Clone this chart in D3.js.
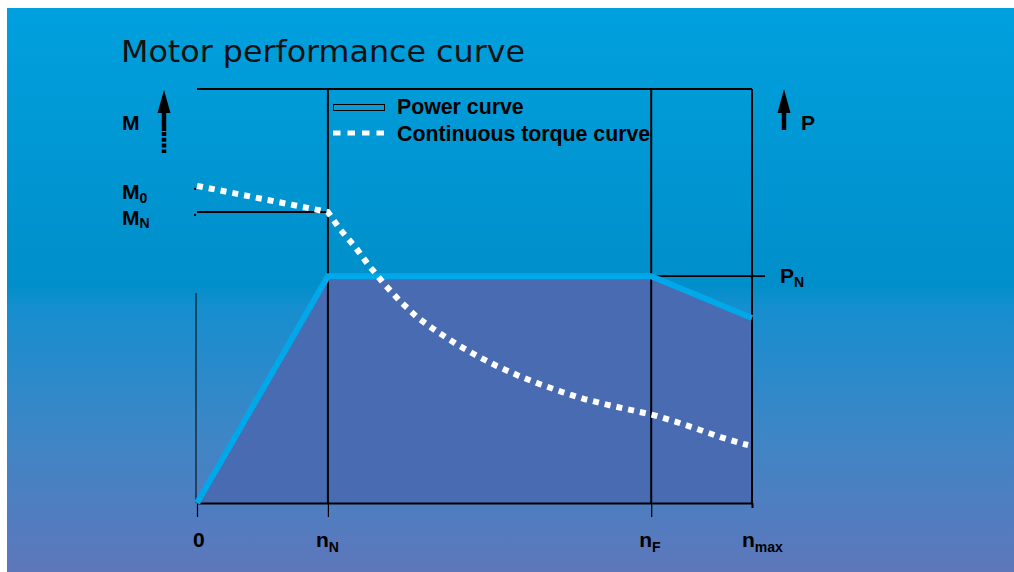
<!DOCTYPE html>
<html>
<head>
<meta charset="utf-8">
<script src="https://cdn.jsdelivr.net/npm/d3@7"></script>
<style>
  html, body { margin: 0; padding: 0; background: #ffffff; }
  svg { display: block; }
</style>
</head>
<body>
<svg id="chart" width="1014" height="572"></svg>
<script>
// ---- data ----
const speedTickValues = [0, 1, 3.47, 4.24];
const speedTickMain   = ["0", "n", "n", "n"];
const speedTickSub    = ["", "N", "F", "max"];
const nMax = 4.24;

const powerN = [0, 1, 3.47, 4.24];
const powerP = [0, 54.8, 54.8, 44.7];
const PN = 54.8;
const pnLineEnd = 4.34;

const torqueN = [0, 1, 1.09, 1.21, 1.31, 1.43, 1.55, 1.68, 1.83, 1.98, 2.13, 2.29, 2.46,
                 2.62, 2.79, 2.96, 3.14, 3.31, 3.48, 3.66, 3.82, 4.00, 4.17, 4.21];
const torqueM = [76.6, 70.3, 66.2, 61.8, 57.5, 52.9, 48.8, 44.9, 41.5, 38.4, 35.7, 33.1, 30.7,
                 28.7, 26.8, 25.1, 23.7, 22.5, 21.3, 19.6, 17.9, 15.9, 14.3, 14.0];
const M0 = 76.6;
const MN = 70.3;
const leftAxisTop = 50.7;

const titleText = "Motor performance curve";
const legendLabels = ["Power curve", "Continuous torque curve"];

// ---- drawing ----
const svg = d3.select("#chart");
const defs = svg.append("defs");
const grad = defs.append("linearGradient").attr("id", "bg")
  .attr("x1", 0).attr("y1", 0).attr("x2", 0).attr("y2", 1);
[["0%", "#00a0de"], ["49%", "#008fca"], ["53%", "#168ecf"], ["75%", "#3d86c6"], ["100%", "#5e77bb"]]
  .forEach(([o, c]) => grad.append("stop").attr("offset", o).attr("stop-color", c));

svg.append("rect").attr("x", 7).attr("y", 8).attr("width", 1007).attr("height", 564)
  .attr("fill", "url(#bg)");

const x = d3.scaleLinear().domain([0, nMax]).range([197, 752]);
const y = d3.scaleLinear().domain([0, 100]).range([503, 89]);

const powerData = powerN.map((n, i) => ({ n, v: powerP[i] }));
const torqueData = torqueN.map((n, i) => ({ n, v: torqueM[i] }));

// filled area under power curve
svg.append("path").datum(powerData)
  .attr("d", d3.area().x(d => x(d.n)).y0(y(0)).y1(d => y(d.v)))
  .attr("fill", "#486bb1");

// frame / grid lines
const g = svg.append("g").attr("stroke", "#000").attr("fill", "none");
g.append("line").attr("x1", x(0)).attr("x2", x(nMax)).attr("y1", y(100)).attr("y2", y(100)).attr("stroke-width", 2);
speedTickValues.slice(1).forEach(v => {
  g.append("line").attr("x1", x(v)).attr("x2", x(v)).attr("y1", y(100)).attr("y2", y(0)).attr("stroke-width", 2);
});
g.append("line").attr("x1", x(0) - 1).attr("x2", x(0) - 1).attr("y1", y(leftAxisTop)).attr("y2", y(0)).attr("stroke-width", 1);
// M_N horizontal
g.append("line").attr("x1", x(0)).attr("x2", x(1)).attr("y1", y(MN)).attr("y2", y(MN)).attr("stroke-width", 2);
// P_N horizontal
g.append("line").attr("x1", x(3.47)).attr("x2", x(pnLineEnd)).attr("y1", y(PN)).attr("y2", y(PN)).attr("stroke-width", 1.6);
// small dots at left
[M0, MN].forEach(v => {
  svg.append("rect").attr("x", x(0) - 3).attr("y", y(v) + 2).attr("width", 2).attr("height", 2).attr("fill", "#000");
});

// bottom axis
const axis = d3.axisBottom(x).tickValues(speedTickValues).tickFormat("").tickSize(14).tickSizeOuter(0);
const ax = svg.append("g").attr("transform", `translate(0,${y(0)})`).call(axis);
ax.select(".domain").attr("stroke", "#000").attr("stroke-width", 2);
ax.selectAll(".tick line").attr("stroke", "#000").attr("stroke-width", 1.2);
ax.selectAll(".tick").filter(d => d === nMax).select("line").attr("y2", 5).attr("stroke-width", 2);

// power curve line
svg.append("path").datum(powerData)
  .attr("d", d3.line().x(d => x(d.n)).y(d => y(d.v)))
  .attr("fill", "none").attr("stroke", "#00a8ea").attr("stroke-width", 6)
  .attr("stroke-linejoin", "miter");

// torque curve (dotted)
svg.append("path").datum(torqueData)
  .attr("d", d3.line().curve(d3.curveLinear).x(d => x(d.n)).y(d => y(d.v)))
  .attr("fill", "none").attr("stroke", "#ffffff").attr("stroke-width", 6)
  .attr("stroke-dasharray", "6,6");

// title
svg.append("text").attr("x", 121).attr("y", 62)
  .attr("font-family", "DejaVu Sans").attr("font-size", 30).attr("fill", "#111")
  .attr("textLength", 404).attr("lengthAdjust", "spacingAndGlyphs")
  .text(titleText);

const bold = "Liberation Sans, Arial, sans-serif";

// legend
svg.append("rect").attr("x", 333.5).attr("y", 104.5).attr("width", 51).attr("height", 6)
  .attr("fill", "#0a9ad6").attr("stroke", "#000").attr("stroke-width", 1);
svg.append("line").attr("x1", 333).attr("x2", 385).attr("y1", 133).attr("y2", 133)
  .attr("stroke", "#fff").attr("stroke-width", 5).attr("stroke-dasharray", "7.5,7");
svg.selectAll(".leg").data(legendLabels).enter().append("text")
  .attr("x", 397).attr("y", (d, i) => 114 + i * 27)
  .attr("font-family", bold).attr("font-weight", "bold").attr("font-size", 21.3).attr("fill", "#000")
  .text(d => d);

// axis labels
function subLabel(xp, yp, main, sub, subDy) {
  const t = svg.append("text").attr("x", xp).attr("y", yp)
    .attr("font-family", bold).attr("font-weight", "bold").attr("font-size", 21).attr("fill", "#000");
  t.append("tspan").text(main);
  if (sub) t.append("tspan").attr("font-size", 14).attr("dy", subDy).text(sub);
  return t;
}
subLabel(122, 130, "M", "", 0);
subLabel(122, 199, "M", "0", 4);
subLabel(122, 225, "M", "N", 3);
subLabel(801, 130, "P", "", 0);
subLabel(780, 283, "P", "N", 4);

speedTickValues.forEach((v, i) => {
  const off = i === 0 ? -4 : (i === 3 ? -10 : -12);
  subLabel(x(v) + off, 547, speedTickMain[i], speedTickSub[i], 5);
});

// arrows
function arrow(cx, tip, base, shaftEnd) {
  svg.append("path")
    .attr("d", `M${cx},${tip} L${cx + 6.5},${base} L${cx - 6.5},${base} Z`).attr("fill", "#000");
  svg.append("line").attr("x1", cx).attr("x2", cx).attr("y1", base - 1).attr("y2", shaftEnd)
    .attr("stroke", "#000").attr("stroke-width", 4.5);
}
arrow(164, 90, 113, 131);
svg.append("line").attr("x1", 164).attr("x2", 164).attr("y1", 132).attr("y2", 153)
  .attr("stroke", "#000").attr("stroke-width", 4.5).attr("stroke-dasharray", "4,1.8");
arrow(784, 89, 113, 130);
</script>
</body>
</html>
